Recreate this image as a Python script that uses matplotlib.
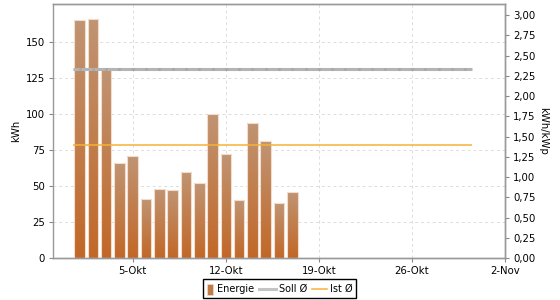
import datetime as dt
import numpy as np
import matplotlib
matplotlib.use("Agg")
import matplotlib.pyplot as plt
import matplotlib.dates as mdates
from matplotlib.patches import Rectangle
from matplotlib.lines import Line2D
from matplotlib.ticker import FixedLocator, FuncFormatter

# ---- data ----
bar_dates = [dt.date(2014, 10, d) for d in range(1, 18)]
energy_kwh = [165, 166, 132, 66, 71, 41, 48, 47, 60, 52, 100, 72, 40, 94, 81, 38, 46]
period_days = [dt.date(2014, 10, d) for d in range(1, 31)]
soll_avg = 2.33   # kWh/kWp
ist_avg = 1.39    # kWh/kWp
tick_dates = [dt.date(2014, 10, 5), dt.date(2014, 10, 12), dt.date(2014, 10, 19),
              dt.date(2014, 10, 26), dt.date(2014, 11, 2)]
tick_labels = ["5-Okt", "12-Okt", "19-Okt", "26-Okt", "2-Nov"]
x_start = dt.date(2014, 9, 29)
x_end = dt.date(2014, 11, 2)
left_ticks = [0, 25, 50, 75, 100, 125, 150]
right_ticks = [0, 0.25, 0.5, 0.75, 1.0, 1.25, 1.5, 1.75, 2.0, 2.25, 2.5, 2.75, 3.0]
legend_labels = ["Energie", "Soll Ø", "Ist Ø"]

FS = 7.3
LFS = 7.0
W, H = 560, 300
plt.rcParams['font.family'] = ['DejaVu Sans']
plt.rcParams['font.size'] = FS

fig = plt.figure(figsize=(W/100, H/100), dpi=100)
ax = fig.add_axes([53/W, 42/H, 452/W, 254/H])
ax2 = ax.twinx()

BAR_TOP = '#c09473'
BAR_BOT = '#c26828'
BAR_EDGE = '#f2dccb'
SOLL_C = '#b4b4b4'
IST_C = '#f5b235'

xb = mdates.date2num(bar_dates)
width = 0.8
bars = ax.bar(xb, energy_kwh, width=width, color='none', edgecolor=BAR_EDGE,
              linewidth=0.8, zorder=3)

# gradient fill
top_c = np.array(matplotlib.colors.to_rgb(BAR_TOP))
bot_c = np.array(matplotlib.colors.to_rgb(BAR_BOT))
t = np.linspace(0, 1, 64)[:, None]
grad = (top_c[None, :] * (1 - t) + bot_c[None, :] * t)[:, None, :]
for rect, x, h in zip(bars, xb, energy_kwh):
    im = ax.imshow(grad, extent=[x - width/2, x + width/2, 0, h], aspect='auto',
                   zorder=2.5, interpolation='bilinear')
    im.set_clip_path(rect)

ax.set_xlim(mdates.date2num(x_start), mdates.date2num(x_end))
ax.set_ylim(0, 176.4)
ax2.set_ylim(0, 3.136)

ax.xaxis.set_major_locator(FixedLocator(mdates.date2num(tick_dates)))
ax.set_xticklabels(tick_labels)
ax.set_yticks(left_ticks)
ax2.set_yticks(right_ticks)
ax2.yaxis.set_major_formatter(FuncFormatter(lambda v, p: f"{v:.2f}".replace('.', ',')))

ax.grid(True, color='#dddddd', linestyle=(0, (3, 3)), linewidth=0.7, zorder=0)
ax.set_axisbelow(True)

# average lines
px = mdates.date2num(period_days)
ax2.plot([px[0] - 0.5, px[-1] + 0.5], [soll_avg, soll_avg], color=SOLL_C,
         linewidth=2.2, zorder=4, solid_capstyle='butt')
ax2.plot(px, [soll_avg] * len(px), linestyle='none', marker='o', markersize=1.2,
         color='#a8a8a8', zorder=4)
ax2.plot([px[0] - 0.5, px[-1] + 0.5], [ist_avg, ist_avg], color=IST_C,
         linewidth=1.1, zorder=4, solid_capstyle='butt')

for a in (ax, ax2):
    for s in a.spines.values():
        s.set_color('#999999')
        s.set_linewidth(1.0)
    a.tick_params(length=3, color='#888888', labelcolor='black', labelsize=FS, pad=3)
ax2.spines['left'].set_visible(False)

ax.set_ylabel("kWh", fontsize=FS, labelpad=3)
ax2.set_ylabel("kWh/kWp", fontsize=FS, rotation=270, labelpad=9)

# ---- manual legend (figure pixel coordinates) ----
def fx(p):
    return p / W

def fy(p):
    return 1 - p / H

fig.patches.append(Rectangle((fx(203), fy(298)), fx(153), 19 / H, transform=fig.transFigure,
                             facecolor='white', edgecolor='black', linewidth=1.0))
fig.patches.append(Rectangle((fx(207), fy(294.5)), 5.5 / W, 11 / H, transform=fig.transFigure,
                             facecolor='#c07a45', edgecolor=BAR_EDGE, linewidth=0.5))
fig.lines.append(Line2D([fx(259), fx(276)], [fy(288.5)] * 2, transform=fig.transFigure,
                        color='#c4c4c4', linewidth=2.2))
fig.lines.append(Line2D([fx(312), fx(327)], [fy(288.5)] * 2, transform=fig.transFigure,
                        color=IST_C, linewidth=1.1))
for xpos, lab in zip([217, 279, 330], legend_labels):
    fig.text(fx(xpos), fy(288.5), lab, ha='left', va='center', fontsize=LFS)

fig.savefig("out.png", dpi=100)
